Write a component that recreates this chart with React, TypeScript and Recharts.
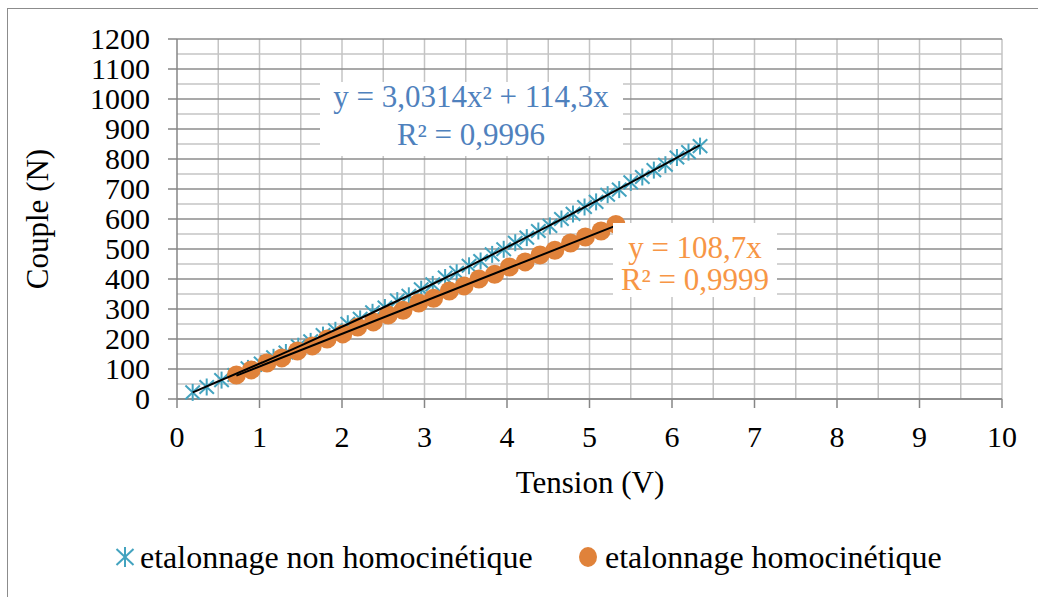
import { ScatterChart, Scatter, XAxis, YAxis, CartesianGrid } from 'recharts';

const FONT = "'Liberation Serif', 'Times New Roman', serif";

const xTicks = [0, 1, 2, 3, 4, 5, 6, 7, 8, 9, 10];
const yTicks = [0, 100, 200, 300, 400, 500, 600, 700, 800, 900, 1000, 1100, 1200];
const yMinor = [50, 150, 250, 350, 450, 550, 650, 750, 850, 950, 1050, 1150];
const xGrid = [0.5, 1, 1.5, 2, 2.5, 3, 3.5, 4, 4.5, 5, 5.5, 6, 6.5, 7, 7.5, 8, 8.5, 9, 9.5, 10];

// etalonnage non homocinétique
const nonHomoX = [0.19, 0.36, 0.54, 0.7, 0.86, 1.02, 1.17, 1.32, 1.47, 1.62, 1.77, 1.92, 2.07, 2.22, 2.37, 2.52, 2.67, 2.81, 2.96, 3.1, 3.25, 3.39, 3.54, 3.68, 3.82, 3.96, 4.1, 4.24, 4.38, 4.52, 4.66, 4.8, 4.94, 5.08, 5.22, 5.36, 5.5, 5.64, 5.78, 5.92, 6.06, 6.2, 6.34];
const nonHomoY = [22, 40, 63, 80, 102, 118, 139, 155, 176, 192, 213, 229, 251, 267, 289, 305, 328, 344, 366, 382, 405, 421, 444, 460, 482, 499, 521, 538, 560, 577, 600, 617, 640, 657, 681, 698, 722, 740, 763, 781, 805, 823, 843];

// etalonnage homocinétique
const homoX = [0.72, 0.9, 1.09, 1.27, 1.46, 1.64, 1.82, 2.01, 2.19, 2.38, 2.56, 2.74, 2.93, 3.11, 3.3, 3.48, 3.66, 3.85, 4.03, 4.22, 4.4, 4.58, 4.77, 4.95, 5.14, 5.32];
const homoY = [80, 97, 120, 137, 160, 177, 200, 217, 240, 257, 280, 296, 320, 336, 360, 377, 400, 416, 440, 457, 480, 496, 520, 540, 560, 582];

// courbes de tendance
const trendNonHomoX = [0.19, 1.5, 3.0, 4.5, 6.34];
const trendNonHomoY = [22, 178, 370, 576, 846];
const trendHomoX = [0.72, 5.32];
const trendHomoY = [78, 578];

const BLUE = '#43a3bf';
const ORANGE = '#e0823a';

const toPoints = (xs: number[], ys: number[]) => xs.map((x, i) => ({ x, y: ys[i] }));

const Star = ({ cx, cy, s = 8.5 }: { cx: number; cy: number; s?: number }) => (
  <g stroke={BLUE} strokeWidth={2}>
    <line x1={cx} y1={cy - s} x2={cx} y2={cy + s} />
    <line x1={cx - s * 0.85} y1={cy - s * 0.8} x2={cx + s * 0.85} y2={cy + s * 0.8} />
    <line x1={cx - s * 0.85} y1={cy + s * 0.8} x2={cx + s * 0.85} y2={cy - s * 0.8} />
  </g>
);

const renderXTick = ({ x, y, payload }: any) => (
  <text x={x} y={y} dy="0.71em" textAnchor="middle" fontSize={30} fill="#000" style={{ fontFamily: FONT }}>
    {payload.value}
  </text>
);

const renderYTick = ({ x, y, payload }: any) => (
  <text x={x} y={y} dy="0.34em" textAnchor="end" fontSize={30} fill="#000" style={{ fontFamily: FONT }}>
    {payload.value}
  </text>
);

export default function App() {
  const W = 1030;
  const H = 588;
  return (
    <div
      style={{
        position: 'fixed',
        left: 7,
        top: 8,
        width: W,
        height: H,
        borderTop: '1px solid #8c8c8c',
        borderLeft: '1px solid #8c8c8c',
        background: '#fff',
        overflow: 'hidden',
        fontFamily: FONT,
      }}
    >
      <ScatterChart
        width={W}
        height={H}
        margin={{ top: 30, right: 36, bottom: 138, left: 89 }}
        style={{ fontFamily: FONT }}
      >
        <CartesianGrid horizontalValues={yMinor} verticalValues={xGrid} stroke="#c4c4c4" strokeWidth={1.5} />
        <CartesianGrid horizontalValues={yTicks} vertical={false} stroke="#8c8c8c" strokeWidth={1.5} />
        <XAxis
          type="number"
          dataKey="x"
          domain={[0, 10]}
          ticks={xTicks}
          interval={0}
          height={60}
          tickSize={9}
          tickMargin={18}
          stroke="#868686"
          strokeWidth={1.5}
          tick={renderXTick}
        />
        <YAxis
          type="number"
          dataKey="y"
          domain={[0, 1200]}
          ticks={yTicks}
          interval={0}
          width={80}
          tickSize={9}
          tickMargin={18}
          stroke="#868686"
          strokeWidth={1.5}
          tick={renderYTick}
        />
        <Scatter
          data={toPoints(nonHomoX, nonHomoY)}
          isAnimationActive={false}
          shape={(p: any) => <Star cx={p.cx} cy={p.cy} />}
        />
        <Scatter
          data={toPoints(homoX, homoY)}
          isAnimationActive={false}
          shape={(p: any) => <circle cx={p.cx} cy={p.cy} r={9.5} fill={ORANGE} />}
        />
        <Scatter
          data={toPoints(trendNonHomoX, trendNonHomoY)}
          isAnimationActive={false}
          line={{ stroke: '#000', strokeWidth: 2 }}
          lineJointType="monotoneX"
          shape={() => <g />}
        />
        <Scatter
          data={toPoints(trendHomoX, trendHomoY)}
          isAnimationActive={false}
          line={{ stroke: '#000', strokeWidth: 2 }}
          shape={() => <g />}
        />
      </ScatterChart>
      <svg
        width={W}
        height={H}
        style={{ position: 'absolute', left: 0, top: 0, pointerEvents: 'none' }}
        fontFamily={FONT}
      >
        <text x={40} y={210} transform="rotate(-90 40 210)" textAnchor="middle" fontSize={31} fill="#000">
          Couple (N)
        </text>
        <text x={582} y={484} textAnchor="middle" fontSize={31} fill="#000">
          Tension (V)
        </text>

        <rect x={312} y={73} width={303} height={74} fill="#fff" />
        <text x={463} y={98} textAnchor="middle" fontSize={31} fill="#4f81bd">
          y = 3,0314x² + 114,3x
        </text>
        <text x={463} y={136} textAnchor="middle" fontSize={31} fill="#4f81bd">
          R² = 0,9996
        </text>

        <rect x={605} y={214} width={164} height={74} fill="#fff" />
        <text x={687} y={249} textAnchor="middle" fontSize={31} fill="#f79646">
          y = 108,7x
        </text>
        <text x={687} y={281} textAnchor="middle" fontSize={31} fill="#f79646">
          R² = 0,9999
        </text>

        <Star cx={117} cy={548} s={10} />
        <text x={132} y={559} fontSize={32} fill="#000">
          etalonnage non homocinétique
        </text>
        <ellipse cx={580} cy={548} rx={9} ry={10} fill={ORANGE} />
        <text x={597} y={559} fontSize={32} fill="#000">
          etalonnage homocinétique
        </text>
      </svg>
    </div>
  );
}
